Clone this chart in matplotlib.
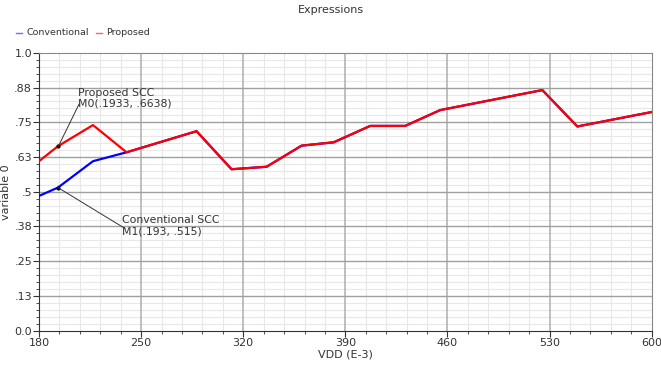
import numpy as np
import matplotlib.pyplot as plt
from matplotlib.ticker import FixedLocator

# Data
vdd = [180, 193, 217, 240, 288, 312, 336, 360, 382, 407, 431, 455, 525, 549, 600]
proposed = [0.610, 0.664, 0.740, 0.642, 0.718, 0.581, 0.590, 0.666, 0.678,
            0.737, 0.737, 0.794, 0.866, 0.735, 0.787]
conventional = [0.485, 0.515, 0.610, 0.642, 0.718, 0.581, 0.590, 0.666, 0.678,
                0.737, 0.737, 0.794, 0.866, 0.735, 0.787]

y_ticks = [0.0, 0.125, 0.25, 0.375, 0.5, 0.625, 0.75, 0.875, 1.0]
y_labels = ['0.0', '.13', '.25', '.38', '.5', '.63', '.75', '.88', '1.0']
x_ticks = [180, 250, 320, 390, 460, 530, 600]

m0 = (193.3, 0.6638)
m1 = (193.0, 0.515)

plt.rcParams['font.family'] = 'DejaVu Sans'
fig = plt.figure(figsize=(6.61, 3.67), dpi=100)
ax = fig.add_axes([0.059, 0.099, 0.927, 0.757])

ax.plot(vdd, conventional, color='#0000ff', lw=1.6, zorder=3)
ax.plot(vdd, proposed, color='#ff0000', lw=1.6, zorder=4)

ax.set_xlim(180, 600)
ax.set_ylim(0, 1.0)
x_minor = [v for v in np.arange(180, 601, 14) if (v - 180) % 70 != 0]
y_minor = [v for i, v in enumerate(np.linspace(0, 1, 41)) if i % 5 != 0]
ax.xaxis.set_major_locator(FixedLocator(x_ticks))
ax.xaxis.set_minor_locator(FixedLocator(x_minor))
ax.yaxis.set_major_locator(FixedLocator(y_ticks))
ax.set_yticklabels(y_labels)
ax.yaxis.set_minor_locator(FixedLocator(y_minor))

# minor grid from the axes, major grid on top of it
ax.grid(which='minor', color='#e8e8e8', lw=0.8)
ax.set_axisbelow(True)
for xv in x_ticks[1:-1]:
    ax.axvline(xv, color='#b4b4b4', lw=1.2, zorder=1)
for yv in y_ticks[1:-1]:
    ax.axhline(yv, color='#a0a0a0', lw=1.0, zorder=1.1)

for s in ax.spines.values():
    s.set_color('#888888')
for s in ['left', 'bottom']:
    ax.spines[s].set_color('#333333')

ax.tick_params(which='major', length=4, labelsize=8, colors='#333333', pad=1)
ax.tick_params(which='minor', length=2, colors='#333333')

ax.set_xlabel('VDD (E-3)', fontsize=8, color='#333333', labelpad=1)
ax.set_ylabel('variable 0', fontsize=8, color='#333333', labelpad=2)
fig.text(0.5, 0.972, 'Expressions', ha='center', va='center', fontsize=8, color='#333333')

# legend
fig.add_artist(plt.Line2D([0.024, 0.034], [0.911, 0.911], color='#7070ff', lw=1))
fig.text(0.040, 0.911, 'Conventional', va='center', fontsize=6.8, color='#333333')
fig.add_artist(plt.Line2D([0.145, 0.155], [0.911, 0.911], color='#ff6060', lw=1))
fig.text(0.160, 0.911, 'Proposed', va='center', fontsize=6.8, color='#333333')

# markers with callouts
ax.plot(*m0, marker='o', ms=2, color='black', zorder=5)
ax.plot(*m1, marker='o', ms=2, color='black', zorder=5)
ax.plot([m0[0], 207.4], [m0[1], 0.815], color='#333333', lw=0.7, zorder=5)
ax.plot([m1[0], 238.9], [m1[1], 0.368], color='#333333', lw=0.7, zorder=5)
ax.text(207, 0.837, 'Proposed SCC\nM0(.1933, .6638)', fontsize=7.8, color='#333333',
        va='center', ha='left', linespacing=1.15)
ax.text(236.8, 0.377, 'Conventional SCC\nM1(.193, .515)', fontsize=7.8, color='#333333',
        va='center', ha='left', linespacing=1.15)

fig.savefig('out.png', dpi=100)
